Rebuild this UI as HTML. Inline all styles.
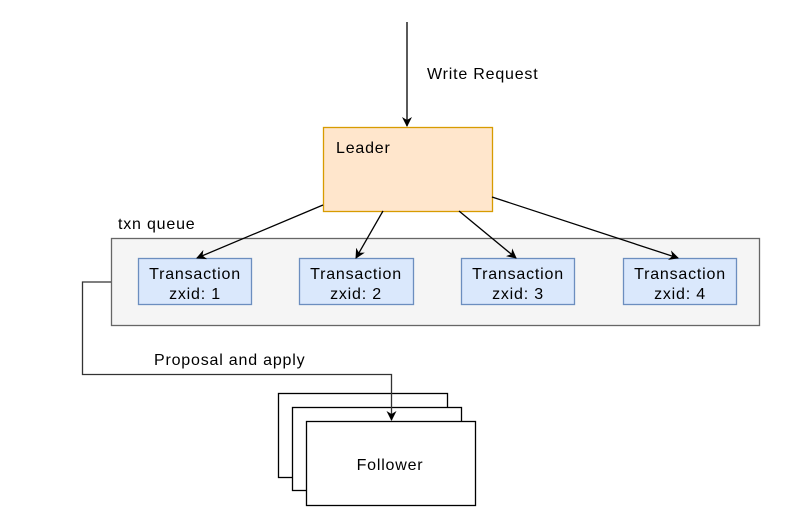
<!DOCTYPE html>
<html><head><meta charset="utf-8"><style>
html,body{margin:0;padding:0;background:#fff}
svg{display:block}
text{font-family:"Liberation Sans",sans-serif;font-size:16px;letter-spacing:0.8px;fill:#000}
</style></head><body>
<svg width="795" height="527" viewBox="0 0 795 527" xmlns="http://www.w3.org/2000/svg">
<defs><marker id="a" markerWidth="10" markerHeight="10" refX="9" refY="5" orient="auto" markerUnits="userSpaceOnUse"><path d="M0,0 L10,5 L0,10 L3,5 Z" fill="#000"/></marker></defs>
<line x1="407" y1="22" x2="407" y2="126" stroke="#000" stroke-width="1.3" marker-end="url(#a)"/>
<text x="427" y="79">Write Request</text>
<rect x="323.5" y="127.5" width="169" height="84" fill="#ffe6cc" stroke="#d79b00" stroke-width="1.3"/>
<text x="336" y="153">Leader</text>
<text x="118" y="229">txn queue</text>
<rect x="111.5" y="238.5" width="648" height="87" fill="#f5f5f5" stroke="#666" stroke-width="1.3"/>
<g fill="#dae8fc" stroke="#6c8ebf" stroke-width="1.3">
<rect x="138.5" y="258.5" width="113" height="46"/>
<rect x="299.5" y="258.5" width="114" height="46"/>
<rect x="461.5" y="258.5" width="113" height="46"/>
<rect x="623.5" y="258.5" width="113" height="46"/>
</g>
<g text-anchor="middle">
<text x="195" y="279">Transaction</text><text x="195" y="299">zxid: 1</text>
<text x="356" y="279">Transaction</text><text x="356" y="299">zxid: 2</text>
<text x="518" y="279">Transaction</text><text x="518" y="299">zxid: 3</text>
<text x="680" y="279">Transaction</text><text x="680" y="299">zxid: 4</text>
</g>
<g stroke="#000" stroke-width="1.3">
<line x1="323" y1="205" x2="197" y2="258" marker-end="url(#a)"/>
<line x1="383" y1="211" x2="356" y2="258" marker-end="url(#a)"/>
<line x1="459" y1="211" x2="516" y2="258" marker-end="url(#a)"/>
<line x1="492" y1="197" x2="678" y2="258" marker-end="url(#a)"/>
</g>
<polyline points="111,282 82.5,282 82.5,374.5 391.5,374.5 391.5,420" fill="none" stroke="#333" stroke-width="1.3" marker-end="url(#a)"/>
<text x="154" y="365">Proposal and apply</text>
<g fill="#fff" stroke="#000" stroke-width="1.3">
<rect x="278.5" y="393.5" width="169" height="84"/>
<rect x="292.5" y="407.5" width="169" height="83"/>
<rect x="306.5" y="421.5" width="169" height="84"/>
</g>
<line x1="391.5" y1="393" x2="391.5" y2="420" stroke="#333" stroke-width="1.3" marker-end="url(#a)"/>
<text x="390" y="470" text-anchor="middle">Follower</text>
</svg>
</body></html>
